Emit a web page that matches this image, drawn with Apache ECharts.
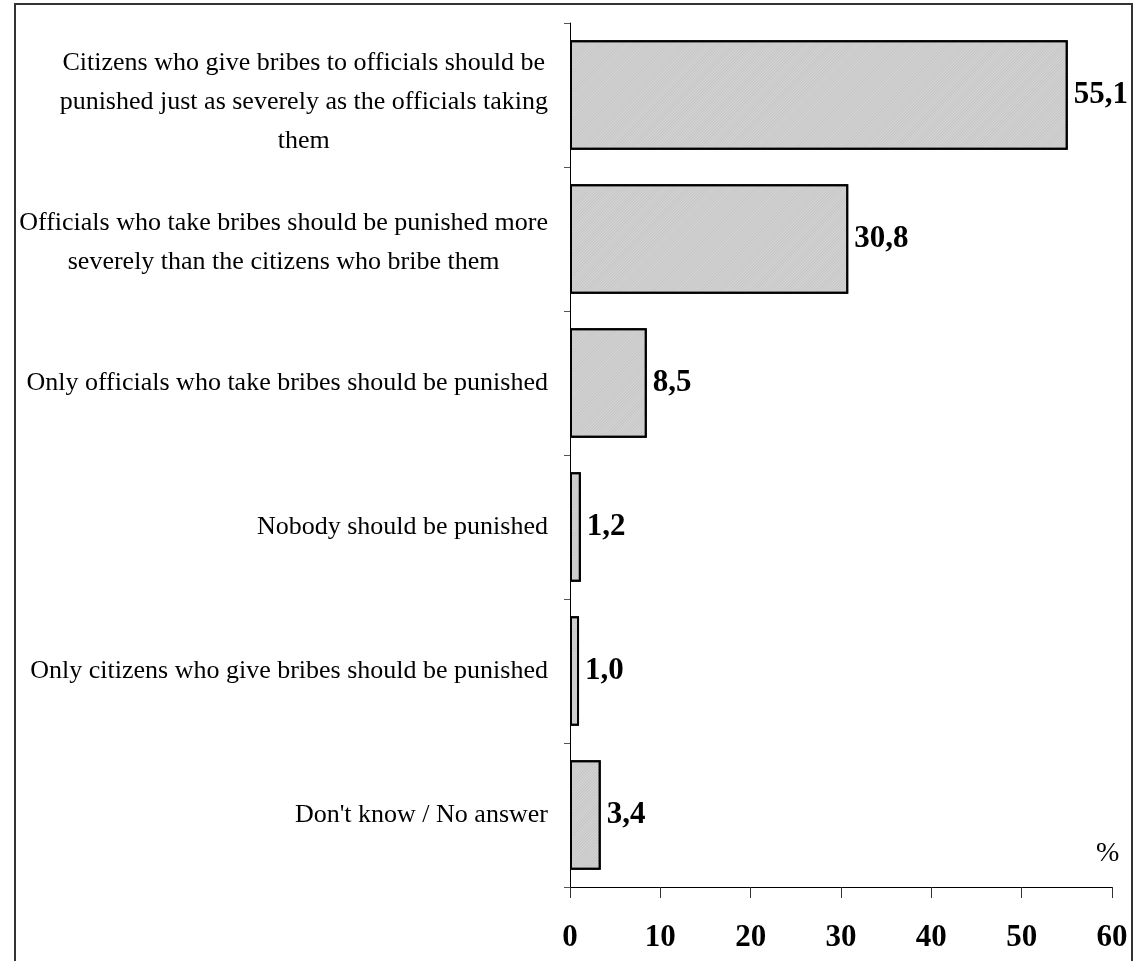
<!DOCTYPE html>
<html>
<head>
<meta charset="utf-8">
<style>
  html, body { margin: 0; padding: 0; background: #fff; }
  #chart { width: 1144px; height: 961px; }
</style>
<script src="https://cdn.jsdelivr.net/npm/echarts@6/dist/echarts.min.js"></script>
</head>
<body>
<div id="chart"></div>
<script>
// Survey answers: who should be punished for bribery (%)
const categories = [
  "Citizens who give bribes to officials should be\npunished just as severely as the officials taking\nthem",
  "Officials who take bribes should be punished more\nseverely than the citizens who bribe them",
  "Only officials who take bribes should be punished",
  "Nobody should be punished",
  "Only citizens who give bribes should be punished",
  "Don't know / No answer"
];
const shares = [55.1, 30.8, 8.5, 1.2, 1.0, 3.4];
const axisTicks = [0, 10, 20, 30, 40, 50, 60];

const serif = '"Liberation Serif", "Times New Roman", serif';
const chart = echarts.init(document.getElementById('chart'));

// wrapped labels sit a little lower than single-line ones
const categoryItems = categories.map(c => {
  const lines = c.split('\n').length;
  return { value: c, textStyle: { padding: [(lines - 1) * 7, 0, 0, 0] } };
});

chart.setOption({
  animation: false,
  backgroundColor: '#fff',
  grid: { left: 570, right: 32, top: 23, bottom: 74, containLabel: false },
  xAxis: {
    type: 'value',
    min: axisTicks[0],
    max: axisTicks[axisTicks.length - 1],
    interval: axisTicks[1] - axisTicks[0],
    splitLine: { show: false },
    axisLine: { show: true, lineStyle: { color: '#000', width: 1 } },
    axisTick: { show: true, length: 11, lineStyle: { color: '#333', width: 1 } },
    axisLabel: {
      margin: 35,
      fontFamily: serif, fontWeight: 'bold', fontSize: 31, color: '#000',
      formatter: v => String(v)
    }
  },
  yAxis: {
    type: 'category',
    inverse: true,
    data: categoryItems,
    axisLine: { show: true, lineStyle: { color: '#000', width: 1 } },
    axisTick: { show: true, length: 6, lineStyle: { color: '#555', width: 1 } },
    axisLabel: {
      margin: 22,
      fontFamily: serif, fontSize: 26, color: '#000',
      lineHeight: 39,
      formatter: v => v.split('\n').map(s => '{c|' + s + '}').join('\n'),
      rich: { c: { align: 'center', fontFamily: serif, fontSize: 26, lineHeight: 39, color: '#000' } }
    }
  },
  series: [{
    type: 'bar',
    data: shares,
    barCategoryGap: '24%',
    itemStyle: {
      color: '#c4c4c4',
      borderColor: '#000',
      borderWidth: 2,
      decal: {
        symbol: 'rect',
        symbolSize: 1,
        color: 'rgba(255,255,255,0.3)',
        dashArrayX: [1, 0],
        dashArrayY: [1, 1],
        rotation: -Math.PI / 4
      }
    },
    label: {
      show: true,
      position: 'right',
      distance: 6,
      fontFamily: serif, fontWeight: 'bold', fontSize: 31, color: '#000',
      formatter: p => p.value.toFixed(1).replace('.', ',')
    }
  }],
  graphic: [
    {
      type: 'rect',
      shape: { x: 15, y: 4, width: 1117, height: 980 },
      style: { fill: 'none', stroke: '#333', lineWidth: 2 },
      silent: true
    },
    {
      type: 'text',
      left: 1096, top: 840,
      style: { text: '%', fontFamily: serif, fontSize: 28, fill: '#000' }
    }
  ]
});
</script>
</body>
</html>
